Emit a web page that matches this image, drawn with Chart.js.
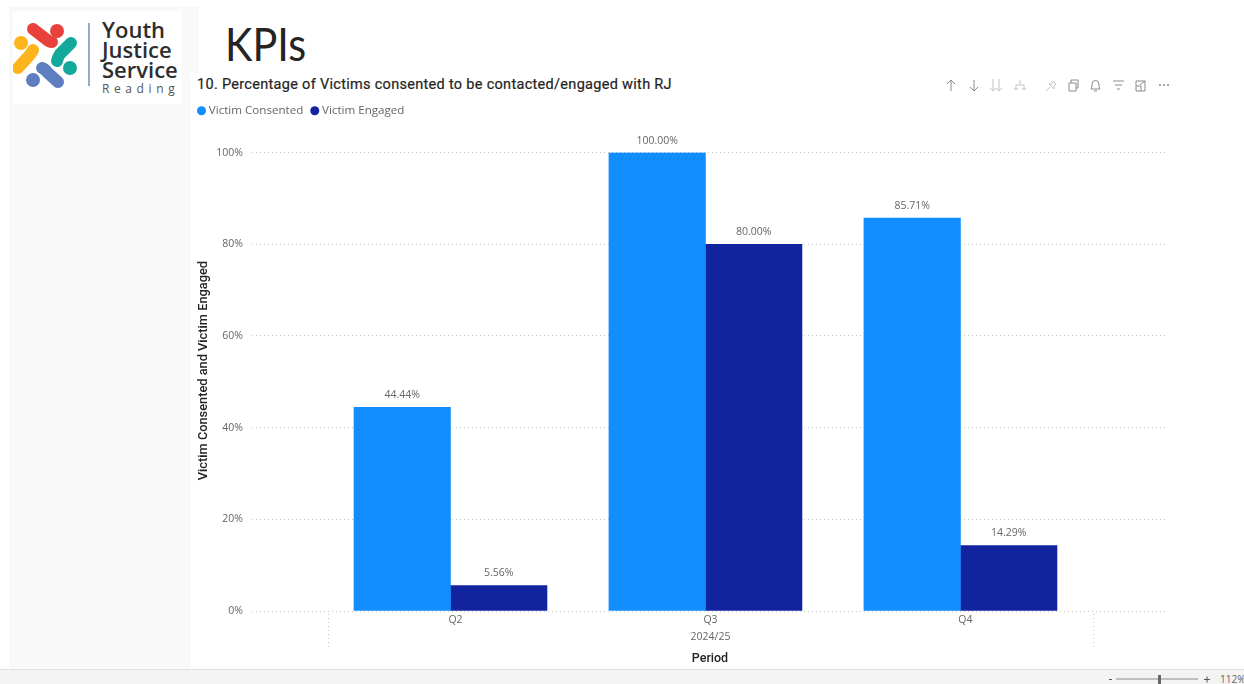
<!DOCTYPE html>
<html>
<head>
<meta charset="utf-8">
<script src="https://cdn.jsdelivr.net/npm/chart.js@4/dist/chart.umd.min.js"></script>
<style>
    html, body { margin: 0; padding: 0; background: #fff; overflow: hidden; }
    body { width: 1244px; height: 684px; position: relative; font-family: "Open Sans", sans-serif; }
    .abs { position: absolute; }
    #sidebar { left: 9px; top: 7px; width: 182px; height: 662px; background: #f9f9f9; }
    #sidetop { left: 191px; top: 7px; width: 8px; height: 66px; background: #f9f9f9; }
    #logo { left: 13px; top: 11px; width: 169px; height: 93px; background: #fff; }
    #page-title { left: 225px; top: 12px; font-size: 47px; line-height: 62px; color: #252423; font-family: Lato, sans-serif; transform: scaleX(0.88); transform-origin: left; }
    #chart-title { left: 197px; top: 75px; font-family: Roboto, sans-serif; font-weight: 400; font-size: 14.5px; line-height: 20px; letter-spacing: 0.3px; color: #252423; white-space: nowrap; -webkit-text-stroke: 0.2px #252423; }
    #chart-wrap { left: 190px; top: 95px; width: 1054px; height: 574px; }
    #icons { left: 940px; top: 75px; }
    #statusbar { left: 0; top: 669px; width: 1244px; height: 15px; background: #f3f3f3; border-top: 1px solid #e0e0e0; box-sizing: border-box; }
    #zoom { left: 1100px; top: 669px; }
</style>
</head>
<body>
<div class="abs" id="sidebar"></div>
<div class="abs" id="sidetop"></div>
<svg class="abs" id="logo" viewBox="13 11 169 93">
    <rect x="13" y="11" width="169" height="93" fill="#fff"/>
    <g stroke-width="12" stroke-linecap="round" fill="none">
        <path d="M33 29L46 39Q49 42 52 42" stroke="#e8413c"/>
        <path d="M71 43L60 54Q58 57 57 61" stroke="#12a89a"/>
        <path d="M42 68Q45 69 48 73L58 82" stroke="#5f7ec0"/>
        <path d="M33 50Q31 54 28 57L18 68" stroke="#fdb41d"/>
    </g>
    <circle cx="57" cy="31" r="7" fill="#e8413c"/>
    <circle cx="70" cy="68" r="7" fill="#12a89a"/>
    <circle cx="33" cy="80" r="7" fill="#5f7ec0"/>
    <circle cx="21" cy="43" r="7" fill="#fdb41d"/>
    <line x1="89" y1="23" x2="89" y2="86" stroke="#7f93c8" stroke-width="1.6"/>
    <g font-family="Open Sans, sans-serif" font-size="22" font-weight="600" fill="#2e2e2e">
        <text x="102" y="38">Youth</text>
        <text x="102" y="58">Justice</text>
        <text x="102" y="78">Service</text>
    </g>
    <text x="102" y="93" font-family="Open Sans, sans-serif" font-size="12" letter-spacing="4.6" fill="#555">Reading</text>
</svg>
<div class="abs" id="page-title">KPIs</div>
<div class="abs" id="chart-title">10. Percentage of Victims consented to be contacted/engaged with RJ</div>
<svg class="abs" id="icons" width="235" height="20" fill="none" stroke="#8a8a8a" stroke-width="1">
    <path d="M11 16V5M7 9l4-4 4 4"/>
    <path d="M34 5v11M30 12l4 4 4-4"/>
    <path d="M53 4v12M50 13l3 3 3-3M59 4v12M56 13l3 3 3-3" stroke="#c4c4c4"/>
    <path d="M80 5v4M76 15v-5h8v5M74 13l2 2 2-2M82 13l2 2 2-2" stroke="#c4c4c4"/>
    <path d="M113 6l3 3-2 2 0 3-5-5 3 0zM110 12l-4 4" stroke="#c4c4c4"/>
    <path d="M129 8h7v8h-7zM131 8V5h7v8h-2"/>
    <path d="M151 14c1-1 1-3 1-5a3.5 3.5 0 0 1 7 0c0 2 0 4 1 5zM154 16h3"/>
    <path d="M173 6h11M175 10h7M177 14h3"/>
    <path d="M196 6h9v10h-9zM196 11h5v5M200 10l5-4"/>
    <circle cx="220" cy="10" r=".7"/><circle cx="224" cy="10" r=".7"/><circle cx="228" cy="10" r=".7"/>
</svg>
<div class="abs" id="chart-wrap"><canvas id="kpi"></canvas></div>
<div class="abs" id="statusbar"></div>
<svg class="abs" id="zoom" width="144" height="15">
    <path d="M9 10.5h3M104 10.5h6M107 7.5v6" stroke="#555" stroke-width="1"/>
    <line x1="16" y1="10" x2="98" y2="10" stroke="#8a8a8a" stroke-width="1"/>
    <rect x="58" y="6" width="3" height="9" fill="#666"/>
    <text x="120" y="14" font-family="Open Sans, sans-serif" font-size="10" fill="#666">112%</text>
</svg>

<script>
const categories = ['Q2', 'Q3', 'Q4'];
const periodLabel = '2024/25';
const yAxisTitle = 'Victim Consented and Victim Engaged';
const victimConsented = [44.44, 100, 85.71];
const victimEngaged = [5.56, 80, 14.29];
const yTicks = [0, 20, 40, 60, 80, 100];

const blue = '#118DFF';
const navy = '#12239E';
const labelFont = '"Open Sans", sans-serif';
// the axis labels sit a few px right of the bar groups in the original
const axisShift = 5;

// x is linear so the gridlines can run past the outer categories, like Power BI does
function toPoints(values) {
    return values.map((v, i) => ({ x: i + 1, y: v }));
}

const legendGap = {
    id: 'legendGap',
    beforeInit(chart) {
        const fit = chart.legend.fit;
        chart.legend.fit = function () {
            fit.call(this);
            this.height += 26;
        };
    }
};

const valueLabels = {
    id: 'valueLabels',
    afterDatasetsDraw(chart) {
        const ctx = chart.ctx;
        ctx.save();
        ctx.font = '10.5px ' + labelFont;
        ctx.fillStyle = '#666';
        ctx.textAlign = 'center';
        ctx.textBaseline = 'middle';
        chart.data.datasets.forEach((ds, i) => {
            chart.getDatasetMeta(i).data.forEach((bar, j) => {
                ctx.fillText(ds.data[j].y.toFixed(2) + '%', bar.x, bar.y - 12);
            });
        });
        ctx.restore();
    }
};

const periodAxis = {
    id: 'periodAxis',
    afterDraw(chart) {
        const ctx = chart.ctx;
        const x = chart.scales.x;
        const top = chart.chartArea.bottom + 3;
        ctx.save();
        ctx.strokeStyle = '#c8c8c8';
        ctx.setLineDash([1, 3]);
        [0.5, categories.length + 0.5].forEach(v => {
            const px = Math.round(x.getPixelForValue(v)) + axisShift + 0.5;
            ctx.beginPath();
            ctx.moveTo(px, top);
            ctx.lineTo(px, top + 34);
            ctx.stroke();
        });
        ctx.font = '10.5px ' + labelFont;
        ctx.fillStyle = '#666';
        ctx.textAlign = 'center';
        ctx.textBaseline = 'middle';
        ctx.fillText(periodLabel, x.getPixelForValue(2) + axisShift, chart.chartArea.bottom + 26);

        // y title sits above the plot centre in the original, the built-in one can't do that
        ctx.translate(13.5, chart.chartArea.top + 218);
        ctx.rotate(-Math.PI / 2);
        ctx.font = '500 12.8px Roboto, sans-serif';
        ctx.fillStyle = '#252423';
        ctx.fillText(yAxisTitle, 0, 0);
        ctx.restore();
    }
};

new Chart(document.getElementById('kpi'), {
    type: 'bar',
    data: {
        datasets: [
            { label: 'Victim Consented', data: toPoints(victimConsented), backgroundColor: blue, barThickness: 96.5 },
            { label: 'Victim Engaged', data: toPoints(victimEngaged), backgroundColor: navy, barThickness: 96.5 }
        ]
    },
    options: {
        responsive: true,
        maintainAspectRatio: false,
        animation: false,
        layout: { padding: { top: 0, right: 76, bottom: 2, left: 0 } },
        scales: {
            x: {
                type: 'linear',
                offset: false,
                min: 0.2216,
                max: 3.814,
                afterBuildTicks(axis) {
                    axis.ticks = categories.map((c, i) => ({ value: i + 1 }));
                },
                afterFit(axis) { axis.height = 56; },
                grid: { display: false, drawTicks: false },
                border: { display: false },
                ticks: {
                    autoSkip: false,
                    maxRotation: 0,
                    padding: 3,
                    labelOffset: axisShift,
                    color: '#666',
                    font: { family: labelFont, size: 10.5 },
                    callback: v => categories[v - 1]
                },
                title: {
                    display: true,
                    text: 'Period',
                    color: '#252423',
                    padding: { top: 0, bottom: 1 },
                    font: { family: 'Roboto, sans-serif', size: 12.5, weight: 500 }
                }
            },
            y: {
                min: 0,
                max: 100,
                afterBuildTicks(axis) {
                    axis.ticks = yTicks.map(v => ({ value: v }));
                },
                afterFit(axis) { axis.width = 62; },
                grid: {
                    color: '#c8c8c8',
                    lineWidth: 1,
                    drawTicks: false
                },
                border: { display: false, dash: [1, 3] },
                ticks: {
                    padding: 9,
                    color: '#666',
                    font: { family: labelFont, size: 10.5 },
                    callback: v => v + '%'
                }
            }
        },
        plugins: {
            tooltip: { enabled: false },
            legend: {
                position: 'top',
                align: 'start',
                labels: {
                    usePointStyle: true,
                    pointStyle: 'circle',
                    boxWidth: 3,
                    boxHeight: 6.4,
                    padding: 10,
                    color: '#666',
                    font: { family: labelFont, size: 11.6 }
                }
            }
        }
    },
    plugins: [legendGap, valueLabels, periodAxis]
});
</script>
</body>
</html>
